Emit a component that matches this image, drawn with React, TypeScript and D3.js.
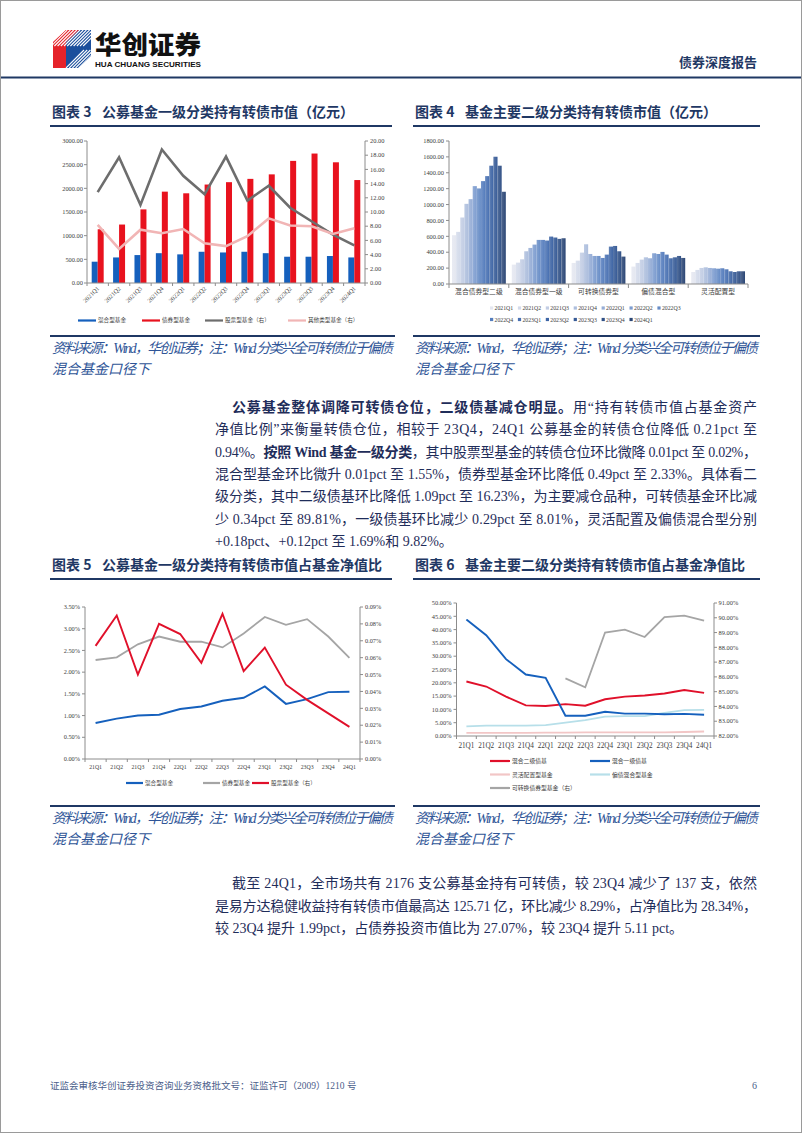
import React from 'react';
import * as d3 from 'd3';

// ---- page constants ----
const W = 802;
const H = 1133;
const NAVY = '#1f3864';
const TEXT = '#1f2d5a';
const NOTE = '#2f5597';
const AXIS = '#8c8c8c';
const TICK_TEXT = '#404040';
const SERIF = "'Liberation Serif', 'Times New Roman', 'Noto Sans CJK SC', serif";
const CJK = "'Noto Sans CJK SC', 'Noto Sans', sans-serif";

// ---- chart 3 data (亿元) ----
const quarters = ['2021Q1', '2021Q2', '2021Q3', '2021Q4', '2022Q1', '2022Q2', '2022Q3', '2022Q4', '2023Q1', '2023Q2', '2023Q3', '2023Q4', '2024Q1'];
const mixedFundValue = [450, 540, 590, 630, 605, 660, 645, 660, 630, 555, 555, 570, 540];
const bondFundValue = [1135, 1235, 1555, 1930, 1895, 2080, 2130, 2200, 2295, 2580, 2735, 2550, 2175];
const stockFundValue = [12.8, 17.7, 11.0, 18.8, 15.1, 12.5, 17.8, 11.6, 13.7, 10.6, 8.7, 6.8, 5.3];
const otherFundValue = [8.2, 4.8, 7.5, 7.0, 7.6, 5.6, 5.2, 6.6, 9.1, 8.1, 8.0, 6.9, 7.7];

// ---- chart 4 data (亿元), one value per quarter ----
const level2Categories = ['混合债券型二级', '混合债券型一级', '可转换债券型', '偏债混合型', '灵活配置型'];
const level2BondValue = [614, 656, 837, 1009, 1068, 1232, 1203, 1295, 1358, 1489, 1602, 1489, 1161];
const level1BondValue = [244, 269, 311, 412, 454, 496, 555, 555, 547, 597, 585, 568, 576];
const convertibleValue = [265, 294, 395, 500, 378, 353, 353, 328, 370, 471, 479, 412, 345];
const biasBondMixValue = [219, 265, 307, 336, 324, 387, 378, 404, 370, 324, 336, 353, 328];
const flexibleValue = [151, 177, 202, 210, 202, 198, 193, 198, 185, 160, 151, 160, 160];

// ---- chart 5 data (%) ----
const shortQuarters = ['21Q1', '21Q2', '21Q3', '21Q4', '22Q1', '22Q2', '22Q3', '22Q4', '23Q1', '23Q2', '23Q3', '23Q4', '24Q1'];
const mixedRatio = [0.83, 0.93, 1.0, 1.02, 1.15, 1.21, 1.34, 1.41, 1.67, 1.27, 1.38, 1.54, 1.55];
const bondRatio = [2.28, 2.34, 2.64, 2.82, 2.7, 2.7, 2.57, 2.89, 3.27, 3.09, 3.22, 2.82, 2.33];
const stockRatio = [0.067, 0.085, 0.05, 0.08, 0.074, 0.057, 0.086, 0.052, 0.066, 0.044, 0.035, 0.027, 0.019];

// ---- chart 6 data (%) ----
const mixed2Ratio = [20.5, 18.6, 14.8, 11.5, 11.3, 12.0, 11.4, 13.8, 14.8, 15.2, 16.0, 17.3, 16.2];
const mixed1Ratio = [43.8, 37.9, 28.9, 23.1, 21.9, 7.6, 7.6, 9.1, 8.4, 8.4, 8.2, 8.3, 8.0];
const flexibleRatio = [1.2, 1.2, 1.2, 1.2, 1.3, 1.3, 1.4, 1.4, 1.4, 1.4, 1.4, 1.5, 1.7];
const biasMixRatio = [3.6, 3.9, 3.9, 3.9, 4.1, 5.0, 6.0, 7.3, 7.5, 7.5, 8.7, 9.7, 9.8];
const convertibleRatio: (number | null)[] = [null, null, null, null, null, 85.9, 85.3, 89.0, 89.2, 88.7, 90.05, 90.15, 89.81];

const seriesColors = d3.range(quarters.length).map(i =>
  d3.interpolateRgbBasis(['#e4e7f0', '#b3c1de', '#5f88c8', '#3a64a8', '#2b4675'])(i / (quarters.length - 1))
);

type Seg = { t: string; b?: boolean };
const para1: Seg[][] = [
  [{ t: '公募基金整体调降可转债仓位，二级债基减仓明显。', b: true }, { t: '用“持有转债市值占基金资产' }],
  [{ t: '净值比例”来衡量转债仓位，相较于 23Q4，24Q1 公募基金的转债仓位降低 0.21pct 至' }],
  [{ t: '0.94%。' }, { t: '按照 Wind 基金一级分类', b: true }, { t: '，其中股票型基金的转债仓位环比微降 0.01pct 至 0.02%，' }],
  [{ t: '混合型基金环比微升 0.01pct 至 1.55%，债券型基金环比降低 0.49pct 至 2.33%。具体看二' }],
  [{ t: '级分类，其中二级债基环比降低 1.09pct 至 16.23%，为主要减仓品种，可转债基金环比减' }],
  [{ t: '少 0.34pct 至 89.81%，一级债基环比减少 0.29pct 至 8.01%，灵活配置及偏债混合型分别' }],
  [{ t: '+0.18pct、+0.12pct 至 1.69%和 9.82%。' }],
];
const para2: Seg[][] = [
  [{ t: '截至 24Q1，全市场共有 2176 支公募基金持有可转债，较 23Q4 减少了 137 支，依然' }],
  [{ t: '是易方达稳健收益持有转债市值最高达 125.71 亿，环比减少 8.29%，占净值比为 28.34%，' }],
  [{ t: '较 23Q4 提升 1.99pct，占债券投资市值比为 27.07%，较 23Q4 提升 5.11 pct。' }],
];

const Paragraph = ({ lines, y0, gap }: { lines: Seg[][]; y0: number; gap: number }) => (
  <g fontFamily={SERIF} fontSize={14} fill={TEXT}>
    {lines.map((segs, i) => {
      const x = i === 0 ? 232 : 215;
      const last = i === lines.length - 1;
      return (
        <text key={i} x={x} y={y0 + i * gap} {...(last ? {} : { textLength: 757 - x, lengthAdjust: 'spacing' })}>
          {segs.map((s, j) => (
            <tspan key={j} fontWeight={s.b ? 700 : 400}>{s.t}</tspan>
          ))}
        </text>
      );
    })}
  </g>
);

const Title = ({ x, y, num, label, lineX2 }: { x: number; y: number; num: string; label: string; lineX2: number }) => (
  <g>
    <text x={x} y={y} fontFamily={CJK} fontWeight={700} fontSize={14} fill={NAVY}>{`图表 ${num}`}</text>
    <text x={x + 50} y={y} fontFamily={CJK} fontWeight={700} fontSize={14} fill={NAVY}>{label}</text>
    <line x1={x - 2} x2={lineX2} y1={y + 9} y2={y + 9} stroke={NAVY} strokeWidth={2} />
  </g>
);

const Source = ({ x, y, x2 }: { x: number; y: number; x2: number }) => (
  <g>
    <line x1={x - 2} x2={x2} y1={y} y2={y} stroke={NAVY} strokeWidth={2} />
    <text x={x} y={y + 17} fontFamily={SERIF} fontStyle="italic" fontSize={14} fill={NOTE} textLength={x2 - x - 2} lengthAdjust="spacing">
      资料来源：Wind，华创证券；注：Wind 分类兴全可转债位于偏债
    </text>
    <text x={x} y={y + 38} fontFamily={SERIF} fontStyle="italic" fontSize={14} fill={NOTE}>混合基金口径下</text>
  </g>
);

type LegendItem = { label: string; color: string; x: number; y: number; kind: 'line' | 'square'; w?: number };
const Legend = ({ items, fontSize }: { items: LegendItem[]; fontSize: number }) => (
  <g>
    {items.map((it, i) =>
      it.kind === 'line' ? (
        <g key={i}>
          <line x1={it.x} x2={it.x + (it.w ?? 18)} y1={it.y} y2={it.y} stroke={it.color} strokeWidth={2.2} />
          <text x={it.x + (it.w ?? 18) + 2} y={it.y + fontSize * 0.35} fontFamily={SERIF} fontSize={fontSize} fill={TICK_TEXT}>{it.label}</text>
        </g>
      ) : (
        <g key={i}>
          <rect x={it.x} y={it.y - 1.6} width={3.2} height={3.2} fill={it.color} />
          <text x={it.x + 4.5} y={it.y + fontSize * 0.35} fontFamily={SERIF} fontSize={fontSize} fill={TICK_TEXT}>{it.label}</text>
        </g>
      )
    )}
  </g>
);

// 图表 3: bars + two lines on right axis
const Chart3 = () => {
  const x = d3.scaleBand().domain(quarters).range([87, 365]).paddingInner(0.44).paddingOuter(0.22);
  const x1 = d3.scaleBand().domain(['mixed', 'bond']).range([0, x.bandwidth()]);
  const yL = d3.scaleLinear().domain([0, 3000]).range([283, 141]);
  const yR = d3.scaleLinear().domain([0, 20]).range([283, 141]);
  const cx = (i: number) => x(quarters[i])! + x.bandwidth() / 2;
  const line = d3.line<number>().x((_, i) => cx(i)).y(d => yR(d));
  const cell = (365 - 87) / quarters.length;
  return (
    <g>
      {quarters.map((q, i) => (
        <g key={q}>
          <rect x={x(q)! + x1('mixed')!} y={yL(mixedFundValue[i])} width={x1.bandwidth()} height={283 - yL(mixedFundValue[i])} fill="#1560bd" />
          <rect x={x(q)! + x1('bond')!} y={yL(bondFundValue[i])} width={x1.bandwidth()} height={283 - yL(bondFundValue[i])} fill="#e8121e" />
        </g>
      ))}
      <path d={line(stockFundValue)!} fill="none" stroke="#6d6d6d" strokeWidth={2.6} />
      <path d={line(otherFundValue)!} fill="none" stroke="#f1b5b5" strokeWidth={2.6} />
      {/* axes */}
      <line x1={87} x2={87} y1={141} y2={283} stroke={AXIS} />
      <line x1={365} x2={365} y1={141} y2={283} stroke={AXIS} />
      <line x1={87} x2={365} y1={283} y2={283} stroke={AXIS} />
      {yL.ticks(6).map(t => (
        <g key={t}>
          <line x1={84} x2={87} y1={yL(t)} y2={yL(t)} stroke={AXIS} />
          <text x={83} y={yL(t) + 2.2} textAnchor="end" fontFamily={SERIF} fontSize={6.4} fill={TICK_TEXT}>{t.toFixed(2)}</text>
        </g>
      ))}
      {yR.ticks(10).map(t => (
        <g key={t}>
          <line x1={365} x2={368} y1={yR(t)} y2={yR(t)} stroke={AXIS} />
          <text x={370} y={yR(t) + 2.2} fontFamily={SERIF} fontSize={6.4} fill={TICK_TEXT}>{t.toFixed(2)}</text>
        </g>
      ))}
      {d3.range(quarters.length + 1).map(k => (
        <line key={k} x1={87 + k * cell} x2={87 + k * cell} y1={283} y2={286} stroke={AXIS} />
      ))}
      {quarters.map((q, i) => (
        <text key={q} transform={`translate(${cx(i) + 2},${289}) rotate(-45)`} textAnchor="end" fontFamily={SERIF} fontSize={6.2} fill={TICK_TEXT}>{q}</text>
      ))}
      <Legend
        fontSize={5.6}
        items={[
          { label: '混合型基金', color: '#1560bd', x: 78, y: 320.5, kind: 'line' },
          { label: '债券型基金', color: '#e8121e', x: 142, y: 320.5, kind: 'line' },
          { label: '股票型基金（右）', color: '#6d6d6d', x: 205, y: 320.5, kind: 'line' },
          { label: '其他类型基金（右）', color: '#f1b5b5', x: 288, y: 320.5, kind: 'line' },
        ]}
      />
    </g>
  );
};

// 图表 4: grouped bars by secondary category
const Chart4 = () => {
  const byCategory = [level2BondValue, level1BondValue, convertibleValue, biasBondMixValue, flexibleValue];
  const x0 = d3.scaleBand().domain(level2Categories).range([449, 748]).paddingInner(0.1).paddingOuter(0.05);
  const x1 = d3.scaleBand().domain(quarters).range([0, x0.bandwidth()]);
  const y = d3.scaleLinear().domain([0, 1800]).range([284, 141]);
  const cell = (748 - 449) / level2Categories.length;
  return (
    <g>
      <defs>
        {seriesColors.map((c, i) => (
          <linearGradient key={i} id={`g4-${i}`} x1="0" x2="1" y1="0" y2="0">
            <stop offset="0" stopColor={d3.interpolateRgb(c, '#ffffff')(0.18)} />
            <stop offset="1" stopColor={c} />
          </linearGradient>
        ))}
      </defs>
      {level2Categories.map((cat, ci) => (
        <g key={cat}>
          {quarters.map((q, qi) => (
            <rect key={q} x={x0(cat)! + x1(q)!} y={y(byCategory[ci][qi])} width={x1.bandwidth()} height={284 - y(byCategory[ci][qi])} fill={`url(#g4-${qi})`} />
          ))}
        </g>
      ))}
      <line x1={449} x2={449} y1={141} y2={284} stroke={AXIS} />
      <line x1={449} x2={748} y1={284} y2={284} stroke={AXIS} />
      {y.ticks(9).map(t => (
        <g key={t}>
          <line x1={446} x2={449} y1={y(t)} y2={y(t)} stroke={AXIS} />
          <text x={444} y={y(t) + 2.2} textAnchor="end" fontFamily={SERIF} fontSize={6.4} fill={TICK_TEXT}>{t.toFixed(2)}</text>
        </g>
      ))}
      {d3.range(level2Categories.length + 1).map(k => (
        <line key={k} x1={449 + k * cell} x2={449 + k * cell} y1={284} y2={288} stroke={AXIS} />
      ))}
      {level2Categories.map(cat => (
        <text key={cat} x={x0(cat)! + x0.bandwidth() / 2} y={294} textAnchor="middle" fontFamily={SERIF} fontSize={6.8} fill={TICK_TEXT}>{cat}</text>
      ))}
      <Legend
        fontSize={5.8}
        items={quarters.map((q, i) => ({
          label: q,
          color: seriesColors[i],
          x: 490 + (i < 7 ? i : i - 7) * 27.9,
          y: i < 7 ? 308 : 319.5,
          kind: 'square' as const,
        }))}
      />
    </g>
  );
};

// 图表 5: three lines, stock fund on right axis
const Chart5 = () => {
  const x = d3.scaleBand().domain(shortQuarters).range([85, 360]);
  const yL = d3.scaleLinear().domain([0, 3.5]).range([759, 607]);
  const yR = d3.scaleLinear().domain([0, 0.09]).range([759, 607]);
  const cx = (i: number) => x(shortQuarters[i])! + x.bandwidth() / 2;
  const lineL = d3.line<number>().x((_, i) => cx(i)).y(d => yL(d));
  const lineR = d3.line<number>().x((_, i) => cx(i)).y(d => yR(d));
  const cell = x.step();
  return (
    <g>
      <path d={lineL(bondRatio)!} fill="none" stroke="#a5a5a5" strokeWidth={1.8} />
      <path d={lineL(mixedRatio)!} fill="none" stroke="#1560bd" strokeWidth={1.9} />
      <path d={lineR(stockRatio)!} fill="none" stroke="#e0102a" strokeWidth={1.9} />
      <line x1={85} x2={85} y1={607} y2={759} stroke={AXIS} />
      <line x1={360} x2={360} y1={607} y2={759} stroke={AXIS} />
      <line x1={85} x2={360} y1={759} y2={759} stroke={AXIS} />
      {d3.range(0, 3.51, 0.5).map(t => (
        <g key={t}>
          <line x1={82} x2={85} y1={yL(t)} y2={yL(t)} stroke={AXIS} />
          <text x={80} y={yL(t) + 2.2} textAnchor="end" fontFamily={SERIF} fontSize={6.3} fill={TICK_TEXT}>{`${t.toFixed(2)}%`}</text>
        </g>
      ))}
      {d3.range(0, 0.0901, 0.01).map(t => (
        <g key={t}>
          <line x1={360} x2={363} y1={yR(t)} y2={yR(t)} stroke={AXIS} />
          <text x={365} y={yR(t) + 2.2} fontFamily={SERIF} fontSize={6.3} fill={TICK_TEXT}>{`${t.toFixed(2)}%`}</text>
        </g>
      ))}
      {d3.range(shortQuarters.length + 1).map(k => (
        <line key={k} x1={85 + k * cell} x2={85 + k * cell} y1={759} y2={762} stroke={AXIS} />
      ))}
      {shortQuarters.map((q, i) => (
        <text key={q} x={cx(i)} y={769} textAnchor="middle" fontFamily={SERIF} fontSize={5.8} fill={TICK_TEXT}>{q}</text>
      ))}
      <Legend
        fontSize={5.6}
        items={[
          { label: '混合型基金', color: '#1560bd', x: 126, y: 783, kind: 'line', w: 17 },
          { label: '债券型基金', color: '#a5a5a5', x: 203, y: 783, kind: 'line', w: 17 },
          { label: '股票型基金（右）', color: '#e0102a', x: 252, y: 783, kind: 'line', w: 17 },
        ]}
      />
    </g>
  );
};

// 图表 6: five lines, convertible fund on right axis
const Chart6 = () => {
  const x = d3.scaleBand().domain(shortQuarters).range([456.5, 714]);
  const yL = d3.scaleLinear().domain([0, 50]).range([736, 603]);
  const yR = d3.scaleLinear().domain([82, 91]).range([736, 603]);
  const cx = (i: number) => x(shortQuarters[i])! + x.bandwidth() / 2;
  const lineL = d3.line<number>().x((_, i) => cx(i)).y(d => yL(d));
  const lineR = d3.line<number | null>().defined(d => d !== null).x((_, i) => cx(i)).y(d => yR(d as number));
  const cell = x.step();
  return (
    <g>
      <path d={lineL(flexibleRatio)!} fill="none" stroke="#f2c6c6" strokeWidth={1.8} />
      <path d={lineL(biasMixRatio)!} fill="none" stroke="#b7dfe9" strokeWidth={1.8} />
      <path d={lineR(convertibleRatio)!} fill="none" stroke="#a5a5a5" strokeWidth={1.8} />
      <path d={lineL(mixed2Ratio)!} fill="none" stroke="#e0102a" strokeWidth={1.9} />
      <path d={lineL(mixed1Ratio)!} fill="none" stroke="#1560bd" strokeWidth={1.9} />
      <line x1={456.5} x2={456.5} y1={603} y2={736} stroke={AXIS} />
      <line x1={714} x2={714} y1={603} y2={736} stroke={AXIS} />
      <line x1={456.5} x2={714} y1={736} y2={736} stroke={AXIS} />
      {yL.ticks(10).map(t => (
        <g key={t}>
          <line x1={453.5} x2={456.5} y1={yL(t)} y2={yL(t)} stroke={AXIS} />
          <text x={451.5} y={yL(t) + 2.2} textAnchor="end" fontFamily={SERIF} fontSize={6.4} fill={TICK_TEXT}>{`${t.toFixed(2)}%`}</text>
        </g>
      ))}
      {yR.ticks(9).map(t => (
        <g key={t}>
          <line x1={714} x2={717} y1={yR(t)} y2={yR(t)} stroke={AXIS} />
          <text x={718.5} y={yR(t) + 2.2} fontFamily={SERIF} fontSize={6.4} fill={TICK_TEXT}>{`${t.toFixed(2)}%`}</text>
        </g>
      ))}
      {d3.range(shortQuarters.length + 1).map(k => (
        <line key={k} x1={456.5 + k * cell} x2={456.5 + k * cell} y1={736} y2={739} stroke={AXIS} />
      ))}
      {shortQuarters.map((q, i) => (
        <text key={q} x={cx(i)} y={748} textAnchor="middle" fontFamily={SERIF} fontSize={7.2} fill={TICK_TEXT}>{q}</text>
      ))}
      <Legend
        fontSize={5.8}
        items={[
          { label: '混合二级债基', color: '#e0102a', x: 490, y: 761, kind: 'line', w: 20 },
          { label: '混合一级债基', color: '#1560bd', x: 590, y: 761, kind: 'line', w: 20 },
          { label: '灵活配置型基金', color: '#f2c6c6', x: 490, y: 774.5, kind: 'line', w: 20 },
          { label: '偏债混合型基金', color: '#b7dfe9', x: 590, y: 774.5, kind: 'line', w: 20 },
          { label: '可转换债券型基金（右）', color: '#a5a5a5', x: 490, y: 788, kind: 'line', w: 20 },
        ]}
      />
    </g>
  );
};

const Header = () => (
  <g>
    <defs>
      <clipPath id="logo-clip">
        <polygon points="53,42 66,30 91,30 91,56 78,68 53,68" />
      </clipPath>
    </defs>
    <g clipPath="url(#logo-clip)">
      <polygon points="53,30 66,30 66,68 53,68" fill="#e5232a" />
      <polygon points="66,30 91,30 91,68 66,68" fill="#1b4f9c" />
      <polygon points="53,42 66,30 79,30 66,42 66,68 53,68" fill="#e5232a" />
      {d3.range(0, 12).map(k => (
        <line key={k} x1={48 + k * 3.2} y1={46} x2={64 + k * 3.2} y2={30} stroke="#ffffff" strokeWidth={1.1} />
      ))}
      {d3.range(0, 8).map(k => (
        <line key={`b${k}`} x1={66 + k * 3.2} y1={68} x2={84 + k * 3.2} y2={50} stroke="#ffffff" strokeWidth={1.1} />
      ))}
    </g>
    <text x={95} y={54} fontFamily={CJK} fontWeight={900} fontSize={25} fill="#111" textLength={106} lengthAdjust="spacingAndGlyphs">华创证券</text>
    <text x={95} y={66.5} fontFamily="'Liberation Sans', Arial, sans-serif" fontWeight={700} fontSize={7.4} fill="#111" textLength={106} lengthAdjust="spacingAndGlyphs">HUA CHUANG SECURITIES</text>
    <text x={757} y={67} textAnchor="end" fontFamily={CJK} fontWeight={700} fontSize={13} fill={NAVY}>债券深度报告</text>
    <line x1={1} x2={801} y1={77.5} y2={77.5} stroke={NAVY} strokeWidth={2.2} />
  </g>
);

export default function App() {
  return (
    <svg
      width={W}
      height={H}
      viewBox={`0 0 ${W} ${H}`}
      style={{ position: 'absolute', left: 0, top: 0, background: '#fff' }}
    >
      <rect x={0.5} y={0.5} width={W - 1} height={H - 1} fill="#fff" stroke="#9a9a9a" />
      <Header />

      <Title x={52} y={117} num="3" label="公募基金一级分类持有转债市值（亿元）" lineX2={392} />
      <Title x={415} y={117} num="4" label="基金主要二级分类持有转债市值（亿元）" lineX2={760} />
      <Chart3 />
      <Chart4 />
      <Source x={52} y={336} x2={395} />
      <Source x={415} y={336} x2={760} />

      <Paragraph lines={para1} y0={412} gap={22.3} />

      <Title x={52} y={570} num="5" label="公募基金一级分类持有转债市值占基金净值比" lineX2={392} />
      <Title x={415} y={570} num="6" label="基金主要二级分类持有转债市值占基金净值比" lineX2={760} />
      <Chart5 />
      <Chart6 />
      <Source x={52} y={806} x2={395} />
      <Source x={415} y={806} x2={760} />

      <Paragraph lines={para2} y0={888} gap={22.5} />

      <text x={50} y={1089} fontFamily={SERIF} fontSize={9.5} fill="#4a5d8a">证监会审核华创证券投资咨询业务资格批文号：证监许可（2009）1210 号</text>
      <text x={757} y={1089} textAnchor="end" fontFamily={SERIF} fontSize={10} fill="#4a5d8a">6</text>
    </svg>
  );
}
